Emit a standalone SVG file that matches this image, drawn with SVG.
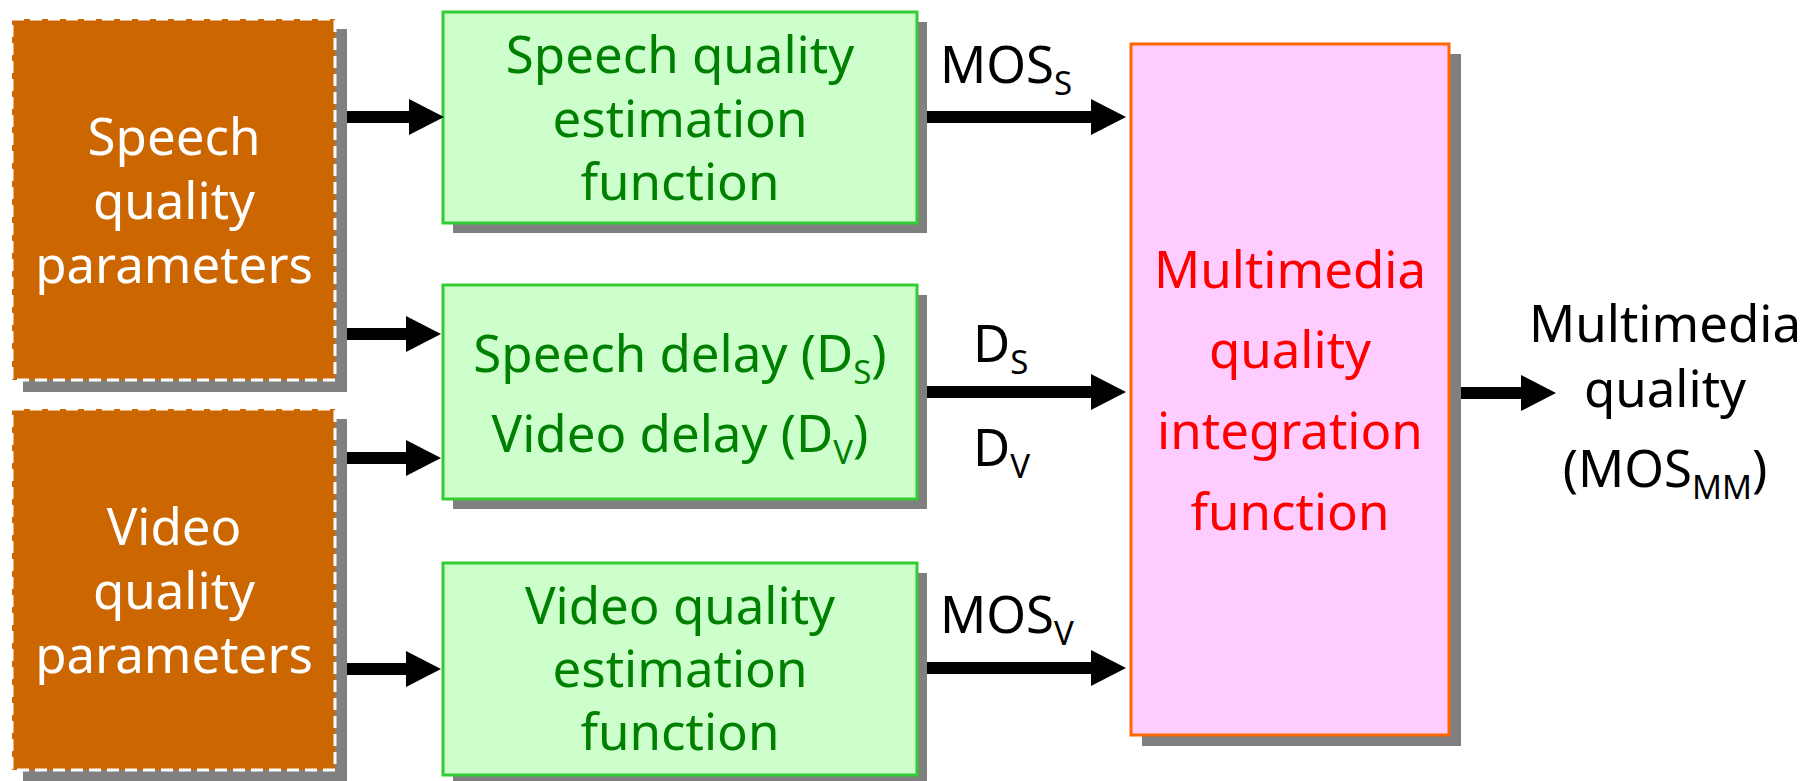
<svg xmlns="http://www.w3.org/2000/svg" width="1801" height="781" viewBox="0 0 1801 781">
<defs>
<style>
.t{font-family:"Noto Sans","DejaVu Sans",sans-serif;font-size:51px;text-anchor:middle}
.l{font-family:"Noto Sans","DejaVu Sans",sans-serif;font-size:51px;fill:#000}
.sub{font-size:33px}
.sh{fill:#808080}
.par{fill:#CC6600;stroke:#FFFFFF;stroke-width:3;stroke-dasharray:12 6}
.fn{fill:#CCFFCC;stroke:#33CC33;stroke-width:3}
.int{fill:#FFCCFF;stroke:#FF6600;stroke-width:3}
.w{fill:#FFFFFF}
.g{fill:#008000}
.r{fill:#FF0000}
.k{fill:#000000}
.c{stroke:#000;stroke-width:12;fill:none;marker-end:url(#ah)}
</style>
<marker id="ah" markerUnits="userSpaceOnUse" markerWidth="36" markerHeight="36" refX="0" refY="18" orient="auto" overflow="visible">
<path d="M0,0 L35,18 L0,36 Z" fill="#000"/>
</marker>
</defs>
<rect width="1801" height="781" fill="#FFFFFF"/>

<g id="speech-params">
<rect class="sh" x="23" y="29" width="324" height="363"/>
<rect class="par" x="12" y="19" width="323" height="361"/>
<text class="t w"><tspan x="174" y="155">Speech</tspan><tspan x="174" y="219">quality</tspan><tspan x="174" y="283">parameters</tspan></text>
</g>

<g id="video-params">
<rect class="sh" x="23" y="419" width="324" height="363"/>
<rect class="par" x="12" y="409" width="323" height="361"/>
<text class="t w"><tspan x="174" y="545">Video</tspan><tspan x="174" y="609">quality</tspan><tspan x="174" y="673">parameters</tspan></text>
</g>

<g id="speech-quality-fn">
<rect class="sh" x="453" y="22" width="474" height="211"/>
<rect class="fn" x="443" y="12" width="474" height="211"/>
<text class="t g"><tspan x="680" y="73">Speech quality</tspan><tspan x="680" y="137">estimation</tspan><tspan x="680" y="200">function</tspan></text>
</g>

<g id="delay-fn">
<rect class="sh" x="453" y="295" width="474" height="214"/>
<rect class="fn" x="443" y="285" width="474" height="214"/>
<text class="t g"><tspan x="680" y="372">Speech delay (D<tspan class="sub" dy="12">S</tspan><tspan dy="-12">)</tspan></tspan></text>
<text class="t g"><tspan x="680" y="452">Video delay (D<tspan class="sub" dy="12">V</tspan><tspan dy="-12">)</tspan></tspan></text>
</g>

<g id="video-quality-fn">
<rect class="sh" x="453" y="573" width="474" height="212"/>
<rect class="fn" x="443" y="563" width="474" height="212"/>
<text class="t g"><tspan x="680" y="624">Video quality</tspan><tspan x="680" y="687">estimation</tspan><tspan x="680" y="750">function</tspan></text>
</g>

<g id="integration-fn">
<rect class="sh" x="1142" y="54" width="319" height="692"/>
<rect class="int" x="1131" y="44" width="318" height="691"/>
<text class="t r"><tspan x="1290" y="288">Multimedia</tspan><tspan x="1290" y="368">quality</tspan><tspan x="1290" y="449">integration</tspan><tspan x="1290" y="530">function</tspan></text>
</g>

<g id="output">
<text class="t k"><tspan x="1665" y="342">Multimedia</tspan><tspan x="1665" y="407">quality</tspan><tspan x="1665" y="487">(MOS<tspan class="sub" dy="12">MM</tspan><tspan dy="-12">)</tspan></tspan></text>
</g>

<g id="connectors">
<line class="c" x1="347" y1="117" x2="409" y2="117"/>
<line class="c" x1="347" y1="334" x2="406" y2="334"/>
<line class="c" x1="347" y1="458" x2="406" y2="458"/>
<line class="c" x1="347" y1="669" x2="406" y2="669"/>
<line class="c" x1="927" y1="117" x2="1091" y2="117"/>
<line class="c" x1="927" y1="392" x2="1091" y2="392"/>
<line class="c" x1="927" y1="668" x2="1091" y2="668"/>
<line class="c" x1="1461" y1="393" x2="1521" y2="393"/>
<text class="l" x="940" y="83">MOS<tspan class="sub" dy="12">S</tspan></text>
<text class="l" x="973" y="362">D<tspan class="sub" dy="12">S</tspan></text>
<text class="l" x="973" y="466">D<tspan class="sub" dy="12">V</tspan></text>
<text class="l" x="940" y="633">MOS<tspan class="sub" dy="12">V</tspan></text>
</g>
</svg>
